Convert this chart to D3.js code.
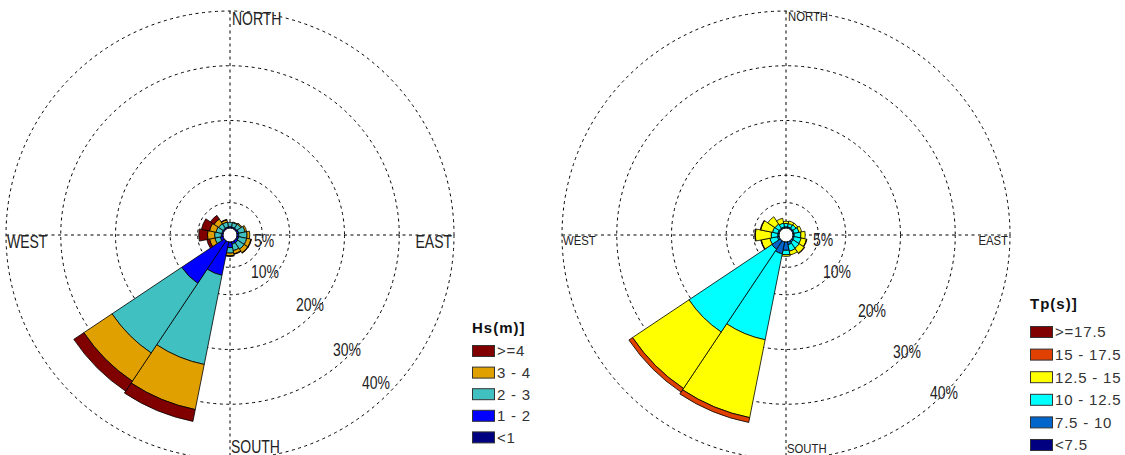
<!DOCTYPE html>
<html>
<head>
<meta charset="utf-8">
<script src="https://cdn.jsdelivr.net/npm/d3@7"></script>
<style>
  html, body { margin: 0; padding: 0; background: #fff; }
  svg { display: block; }
</style>
</head>
<body>
<svg id="chart" width="1125" height="455"></svg>
<script>
// ---------------- DATA ----------------
const directions = ["N","NNE","NE","ENE","E","ESE","SE","SSE","S","SSW","SW","WSW","W","WNW","NW","NNW"];
const directionAngles = [0,22.5,45,67.5,90,112.5,135,157.5,180,202.5,225,247.5,270,292.5,315,337.5];

const ringValues = [5, 10, 20, 30, 40];
const ringLabels = ["5%", "10%", "20%", "30%", "40%"];
const compassLabels = ["NORTH", "EAST", "SOUTH", "WEST"];

// Hs (m) frequencies, % per direction (N .. NNW)
const hsClasses = ["<1", "1 - 2", "2 - 3", "3 - 4", ">=4"];
const hsColors  = ["#000080", "#0000ff", "#40c0c0", "#e0a000", "#800000"];
const hsLt1   = [0.3,0.3,0.3,0.3,0.3,0.3,0.3,0.3,0.4,0.3,0.3,0.3,0.3,0.3,0.3,0.3];
const hs1to2  = [0.3,0.3,0.3,0.4,0.4,0.4,0.5,0.5,1.0,6.3,9.4,0.6,0.4,0.3,0.3,0.3];
const hs2to3  = [0.8,0.8,0.9,1.2,1.5,1.5,1.4,1.2,1.0,16.6,15.3,1.0,1.2,1.1,1.0,0.9];
const hs3to4  = [0.0,0.1,0.2,0.3,0.5,0.8,0.8,0.6,0.5,8.4,6.2,1.0,1.3,1.2,1.0,0.4];
const hsGe4   = [0.0,0.0,0.0,0.0,0.0,0.1,0.1,0.1,0.1,2.2,2.2,0.5,1.6,1.5,0.8,0.1];

// Tp (s) frequencies, % per direction (N .. NNW)
const tpClasses = ["<7.5", "7.5 - 10", "10 - 12.5", "12.5 - 15", "15 - 17.5", ">=17.5"];
const tpColors  = ["#000080", "#0066cc", "#00ffff", "#ffff00", "#e04000", "#800000"];
const tpLt75     = [0.3,0.3,0.3,0.3,0.3,0.3,0.3,0.3,0.3,0.3,0.3,0.3,0.3,0.3,0.3,0.3];
const tp75to10   = [0.3,0.3,0.3,0.3,0.3,0.3,0.4,0.6,1.6,2.3,1.9,0.4,0.3,0.3,0.3,0.3];
const tp10to125  = [0.6,0.6,0.7,0.9,1.2,1.3,1.3,1.2,0.8,16.0,18.2,1.4,1.2,1.0,0.9,0.7];
const tp125to15  = [0.4,0.5,0.4,0.5,0.8,1.0,1.1,0.7,0.3,14.5,12.4,1.6,2.9,2.2,1.6,0.9];
const tp15to175  = [0.0,0.0,0.0,0.0,0.0,0.1,0.1,0.0,0.0,0.9,0.8,0.1,0.1,0.1,0.0,0.0];
const tpGe175    = [0.0,0.0,0.0,0.0,0.0,0.0,0.0,0.0,0.0,0.0,0.0,0.0,0.0,0.0,0.0,0.0];

// ---------------- DRAW ----------------
const svg = d3.select("#chart");
svg.append("rect").attr("width", 1125).attr("height", 455).attr("fill", "#fff");

function drawRose(opts) {
  const { cx, cy, series, colors, classes, title, compassSize, compassScale, legend, labelOffsets } = opts;
  const g = svg.append("g").attr("transform", `translate(${cx},${cy})`);
  const r = d3.scaleLinear().domain([0, 40]).range([5, 224]);
  const R = r(40);
  const deg = Math.PI / 180;

  // grid
  const grid = g.append("g").attr("fill", "none").attr("stroke", "#000")
    .attr("stroke-width", 1).attr("stroke-dasharray", "3,3.5");
  grid.selectAll("circle").data(ringValues).join("circle").attr("r", d => r(d));
  grid.append("line").attr("x1", 0).attr("x2", 0).attr("y1", -R).attr("y2", R);
  grid.append("line").attr("x1", -R).attr("x2", R).attr("y1", 0).attr("y2", 0);

  // bars
  const stackData = [];
  directions.forEach((dname, i) => {
    let cum = 0;
    series.forEach((s, k) => {
      const v = s[i];
      if (v > 0) stackData.push({ dir: directionAngles[i], k, r0: cum, r1: cum + v });
      cum += v;
    });
  });
  const arc = d3.arc()
    .innerRadius(d => r(d.r0))
    .outerRadius(d => r(d.r1))
    .startAngle(d => (d.dir - 11.25) * deg)
    .endAngle(d => (d.dir + 11.25) * deg);
  g.append("g").selectAll("path").data(stackData).join("path")
    .attr("d", arc)
    .attr("fill", d => colors[d.k])
    .attr("stroke", "#000")
    .attr("stroke-width", 0.8)
    .attr("stroke-linejoin", "round");

  // center circle
  g.append("circle").attr("r", 7).attr("fill", "#fff").attr("stroke", "#000").attr("stroke-width", 1);

  // ring labels
  const lab = g.append("g").attr("font-family", "'Liberation Sans', Arial, sans-serif")
    .attr("font-size", 17.5).attr("fill", "#222").attr("text-anchor", "middle");
  ringValues.forEach((v, i) => {
    const [x, y] = labelOffsets[i];
    lab.append("text").attr("transform", `translate(${x},${y}) scale(0.8,1)`)
      .attr("dy", "0.36em").text(ringLabels[i]);
  });

  // compass labels
  const comp = g.append("g").attr("font-family", "'Liberation Sans', Arial, sans-serif")
    .attr("font-size", compassSize).attr("fill", "#222");
  const pos = [
    { x: 2, y: -R + compassSize * 0.8, a: "start" },      // NORTH
    { x: R - 2, y: compassSize * 0.75, a: "end" },        // EAST
    { x: 1, y: R - 6, a: "start" },                       // SOUTH
    { x: -R + 1, y: compassSize * 0.75, a: "start" }      // WEST
  ];
  compassLabels.forEach((t, i) => {
    comp.append("text").attr("transform", `translate(${pos[i].x},${pos[i].y}) scale(${compassScale},1)`)
      .attr("text-anchor", pos[i].a).text(t);
  });

  // legend
  const lg = svg.append("g").attr("font-family", "'Liberation Sans', Arial, sans-serif");
  lg.append("text").attr("x", legend.x).attr("y", legend.titleY).attr("dy", "0.36em")
    .attr("font-weight", "bold").attr("font-size", 15).attr("letter-spacing", 1)
    .attr("fill", "#111").text(title);
  const n = classes.length;
  for (let j = 0; j < n; j++) {
    const k = n - 1 - j;
    const yc = legend.y0 + j * legend.step;
    lg.append("rect").attr("x", legend.x + 0.5).attr("y", yc - 5.5).attr("width", 22).attr("height", 11)
      .attr("fill", colors[k]).attr("stroke", "#333").attr("stroke-width", 1);
    lg.append("text").attr("x", legend.x + 25).attr("y", yc).attr("dy", "0.36em")
      .attr("font-size", 15).attr("letter-spacing", 0.8).attr("fill", "#333").text(classes[k]);
  }
}

drawRose({
  cx: 230, cy: 235,
  series: [hsLt1, hs1to2, hs2to3, hs3to4, hsGe4],
  colors: hsColors, classes: hsClasses, title: "Hs(m)]",
  compassSize: 17.5, compassScale: 0.8,
  labelOffsets: [[34, 6], [35, 37], [80, 70], [117, 115], [146, 148]],
  legend: { x: 472, titleY: 328, y0: 351, step: 21.6 }
});

drawRose({
  cx: 786, cy: 235,
  series: [tpLt75, tp75to10, tp10to125, tp125to15, tp15to175, tpGe175],
  colors: tpColors, classes: tpClasses, title: "Tp(s)]",
  compassSize: 13, compassScale: 0.87,
  labelOffsets: [[37, 5], [51, 37], [86, 76], [121, 117], [158, 158]],
  legend: { x: 1030, titleY: 304, y0: 332, step: 22.6 }
});
</script>
</body>
</html>
